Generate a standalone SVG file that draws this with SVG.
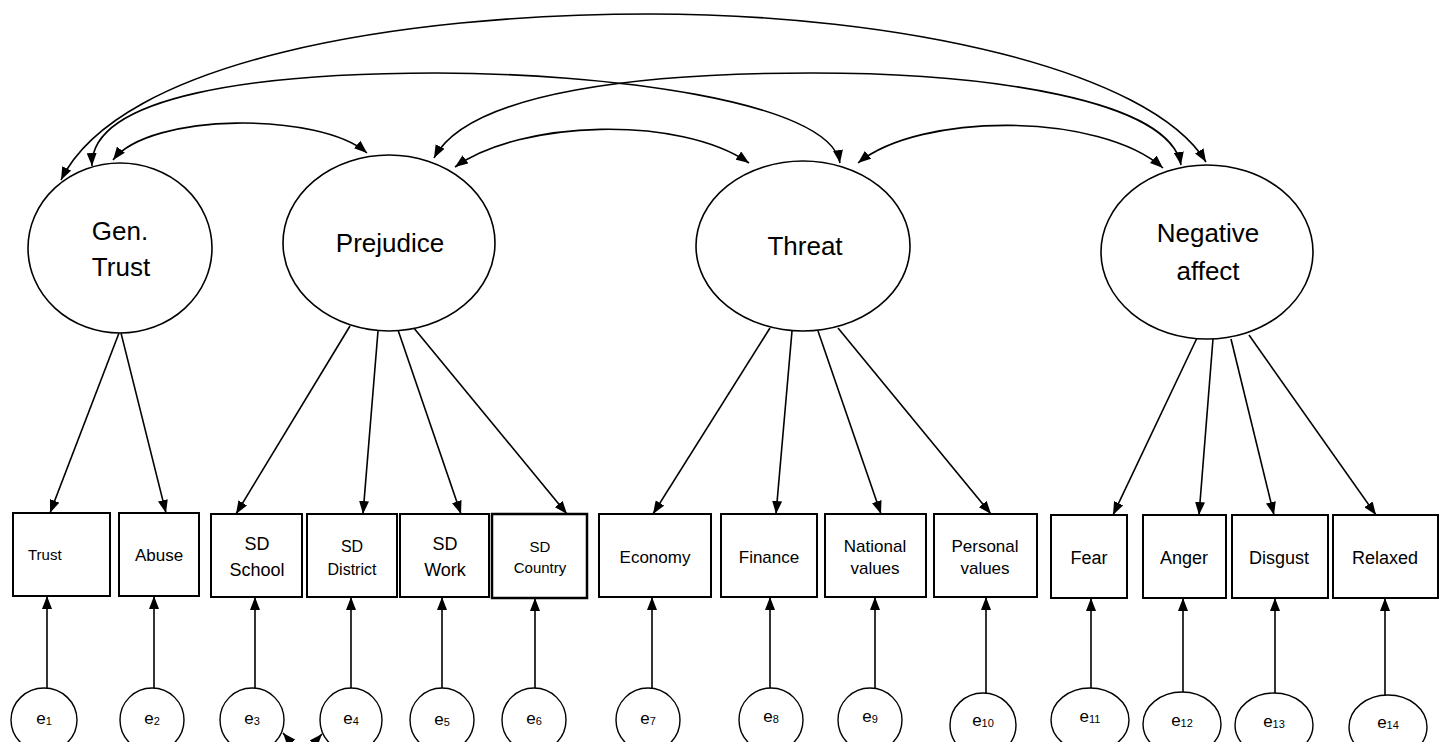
<svg xmlns="http://www.w3.org/2000/svg" width="1440" height="742" viewBox="0 0 1440 742">
<style>
.lat{fill:#fff;stroke:#000;stroke-width:1.6}
.obs{fill:#fff;stroke:#000;stroke-width:2}
.err{fill:#fff;stroke:#000;stroke-width:1.4}
.t{font-family:"Liberation Sans",Arial,sans-serif;fill:#000;text-anchor:middle}
.lt{font-size:26px}
.ot{font-size:18px}
.et{font-size:17px}
.sub{font-size:11px}
.c{fill:none;stroke:#000;stroke-width:1.6}
</style>
<defs>
<marker id="ah" viewBox="0 0 13 10" refX="13" refY="5" markerWidth="13" markerHeight="10" markerUnits="userSpaceOnUse" orient="auto-start-reverse">
<path d="M0,0 L13,5 L0,10 z" fill="#000"/>
</marker>
</defs>
<rect width="1440" height="742" fill="#fff"/>

<g id="connectors">
<!-- covariances -->
<path class="c" d="M113,160 C150,112 320,112 367,153" marker-start="url(#ah)" marker-end="url(#ah)"/>
<path class="c" d="M92,166 C90,95 260,73 436,73 C600,73 830,100 840,163" marker-start="url(#ah)" marker-end="url(#ah)"/>
<path class="c" d="M61,180 C120,60 400,14 650,14 C900,14 1150,70 1206,162" marker-start="url(#ah)" marker-end="url(#ah)"/>
<path class="c" d="M434,158 C470,90 650,73 812,73 C990,73 1170,100 1181,165" marker-start="url(#ah)" marker-end="url(#ah)"/>
<path class="c" d="M455,167 C520,120 680,115 749,163" marker-start="url(#ah)" marker-end="url(#ah)"/>
<path class="c" d="M858,163 C920,112 1100,112 1163,168" marker-start="url(#ah)" marker-end="url(#ah)"/>
<!-- loadings -->
<line class="c" x1="119" y1="333" x2="50" y2="513" marker-end="url(#ah)"/>
<line class="c" x1="121" y1="333" x2="166" y2="513" marker-end="url(#ah)"/>
<line class="c" x1="350" y1="326" x2="236" y2="514" marker-end="url(#ah)"/>
<line class="c" x1="378" y1="331" x2="363" y2="514" marker-end="url(#ah)"/>
<line class="c" x1="398" y1="330" x2="461" y2="514" marker-end="url(#ah)"/>
<line class="c" x1="413" y1="327" x2="567" y2="514" marker-end="url(#ah)"/>
<line class="c" x1="770" y1="328" x2="653" y2="514" marker-end="url(#ah)"/>
<line class="c" x1="792" y1="331" x2="776" y2="514" marker-end="url(#ah)"/>
<line class="c" x1="818" y1="331" x2="881" y2="514" marker-end="url(#ah)"/>
<line class="c" x1="838" y1="328" x2="991" y2="514" marker-end="url(#ah)"/>
<line class="c" x1="1197" y1="338" x2="1113" y2="515" marker-end="url(#ah)"/>
<line class="c" x1="1213" y1="339" x2="1199" y2="515" marker-end="url(#ah)"/>
<line class="c" x1="1231" y1="339" x2="1274" y2="515" marker-end="url(#ah)"/>
<line class="c" x1="1249" y1="335" x2="1376" y2="515" marker-end="url(#ah)"/>
<!-- error paths -->
<line class="c" x1="47" y1="688" x2="47" y2="596" marker-end="url(#ah)"/>
<line class="c" x1="154" y1="688" x2="154" y2="596" marker-end="url(#ah)"/>
<line class="c" x1="255" y1="688" x2="255" y2="597" marker-end="url(#ah)"/>
<line class="c" x1="351" y1="688" x2="351" y2="597" marker-end="url(#ah)"/>
<line class="c" x1="442" y1="688" x2="442" y2="597" marker-end="url(#ah)"/>
<line class="c" x1="535" y1="688" x2="535" y2="598" marker-end="url(#ah)"/>
<line class="c" x1="652" y1="688" x2="652" y2="597" marker-end="url(#ah)"/>
<line class="c" x1="770" y1="688" x2="770" y2="597" marker-end="url(#ah)"/>
<line class="c" x1="875" y1="688" x2="875" y2="597" marker-end="url(#ah)"/>
<line class="c" x1="986" y1="693" x2="986" y2="597" marker-end="url(#ah)"/>
<line class="c" x1="1091" y1="688" x2="1091" y2="598" marker-end="url(#ah)"/>
<line class="c" x1="1183" y1="692" x2="1183" y2="598" marker-end="url(#ah)"/>
<line class="c" x1="1275" y1="693" x2="1275" y2="598" marker-end="url(#ah)"/>
<line class="c" x1="1385" y1="695" x2="1385" y2="598" marker-end="url(#ah)"/>
</g>

<g id="gentrust"><ellipse class="lat" cx="120" cy="248" rx="92" ry="85"/><text class="t lt" x="120" y="240">Gen.</text><text class="t lt" x="121" y="276">Trust</text></g>
<g id="prejudice"><ellipse class="lat" cx="389" cy="243" rx="106" ry="88"/><text class="t lt" x="390" y="252">Prejudice</text></g>
<g id="threat"><ellipse class="lat" cx="803" cy="246" rx="107" ry="85"/><text class="t lt" x="805" y="255">Threat</text></g>
<g id="negaffect"><ellipse class="lat" cx="1207" cy="252" rx="106" ry="87"/><text class="t lt" x="1208" y="242">Negative</text><text class="t lt" x="1208" y="280">affect</text></g>

<g id="trust"><rect class="obs" x="13" y="513" width="97" height="83"/><text class="t" style="font-size:15px;text-anchor:start" x="28" y="560">Trust</text></g>
<g id="abuse"><rect class="obs" x="119" y="513" width="80" height="83"/><text class="t" style="font-size:17px" x="159" y="561">Abuse</text></g>
<g id="sdschool"><rect class="obs" x="211" y="514" width="91" height="83"/><text class="t ot" x="257" y="550">SD</text><text class="t ot" x="257" y="576">School</text></g>
<g id="sddistrict"><rect class="obs" x="307" y="514" width="90" height="83"/><text class="t" style="font-size:16px" x="352" y="552">SD</text><text class="t" style="font-size:16px" x="352" y="575">District</text></g>
<g id="sdwork"><rect class="obs" x="400" y="514" width="89" height="83"/><text class="t ot" x="445" y="550">SD</text><text class="t ot" x="445" y="576">Work</text></g>
<g id="sdcountry"><rect class="obs" style="stroke-width:2.5" x="492" y="514" width="95" height="84"/><text class="t" style="font-size:15px" x="540" y="552">SD</text><text class="t" style="font-size:15px" x="540" y="573">Country</text></g>
<g id="economy"><rect class="obs" x="599" y="514" width="112" height="83"/><text class="t" style="font-size:17px" x="655" y="563">Economy</text></g>
<g id="finance"><rect class="obs" x="721" y="514" width="96" height="83"/><text class="t" style="font-size:17px" x="769" y="563">Finance</text></g>
<g id="national"><rect class="obs" x="825" y="514" width="101" height="83"/><text class="t" style="font-size:17px" x="875" y="552">National</text><text class="t" style="font-size:17px" x="875" y="574">values</text></g>
<g id="personal"><rect class="obs" x="934" y="514" width="103" height="83"/><text class="t" style="font-size:17px" x="985" y="552">Personal</text><text class="t" style="font-size:17px" x="985" y="574">values</text></g>
<g id="fear"><rect class="obs" x="1051" y="515" width="76" height="83"/><text class="t ot" x="1089" y="564">Fear</text></g>
<g id="anger"><rect class="obs" x="1143" y="515" width="83" height="83"/><text class="t ot" x="1184" y="564">Anger</text></g>
<g id="disgust"><rect class="obs" x="1232" y="515" width="96" height="83"/><text class="t ot" x="1279" y="564">Disgust</text></g>
<g id="relaxed"><rect class="obs" x="1333" y="515" width="105" height="83"/><text class="t ot" x="1385" y="564">Relaxed</text></g>

<g id="e1"><ellipse class="err" cx="44" cy="720" rx="33" ry="32"/><text class="t et" x="44" y="724">e<tspan class="sub" dy="1">1</tspan></text></g>
<g id="e2"><ellipse class="err" cx="152" cy="720" rx="32" ry="32"/><text class="t et" x="152" y="724">e<tspan class="sub" dy="1">2</tspan></text></g>
<g id="e3"><ellipse class="err" cx="252" cy="720" rx="32" ry="32"/><text class="t et" x="252" y="724">e<tspan class="sub" dy="1">3</tspan></text></g>
<g id="e4"><ellipse class="err" cx="351" cy="720" rx="31" ry="32"/><text class="t et" x="351" y="724">e<tspan class="sub" dy="1">4</tspan></text></g>
<g id="e5"><ellipse class="err" cx="442" cy="720" rx="32" ry="32"/><text class="t et" x="442" y="725">e<tspan class="sub" dy="1">5</tspan></text></g>
<g id="e6"><ellipse class="err" cx="534" cy="720" rx="32" ry="32"/><text class="t et" x="534" y="724">e<tspan class="sub" dy="1">6</tspan></text></g>
<g id="e7"><ellipse class="err" cx="648" cy="720" rx="32" ry="32"/><text class="t et" x="648" y="724">e<tspan class="sub" dy="1">7</tspan></text></g>
<g id="e8"><ellipse class="err" cx="771" cy="720" rx="32" ry="32"/><text class="t et" x="771" y="722">e<tspan class="sub" dy="1">8</tspan></text></g>
<g id="e9"><ellipse class="err" cx="870" cy="720" rx="32" ry="32"/><text class="t et" x="870" y="722">e<tspan class="sub" dy="1">9</tspan></text></g>
<g id="e10"><ellipse class="err" cx="983" cy="725" rx="33" ry="32"/><text class="t et" x="983" y="726">e<tspan class="sub" dy="1">10</tspan></text></g>
<g id="e11"><ellipse class="err" cx="1090" cy="720" rx="39" ry="32"/><text class="t et" x="1090" y="722">e<tspan class="sub" dy="1">11</tspan></text></g>
<g id="e12"><ellipse class="err" cx="1182" cy="724" rx="39" ry="32"/><text class="t et" x="1182" y="726">e<tspan class="sub" dy="1">12</tspan></text></g>
<g id="e13"><ellipse class="err" cx="1274" cy="725" rx="39" ry="32"/><text class="t et" x="1274" y="727">e<tspan class="sub" dy="1">13</tspan></text></g>
<g id="e14"><ellipse class="err" cx="1388" cy="727" rx="39" ry="32"/><text class="t et" x="1388" y="728">e<tspan class="sub" dy="1">14</tspan></text></g>

<g id="e3e4-cov">
<path class="c" d="M283,733 C299,752 306,752 322,734" marker-start="url(#ah)" marker-end="url(#ah)"/>
</g>
</svg>
